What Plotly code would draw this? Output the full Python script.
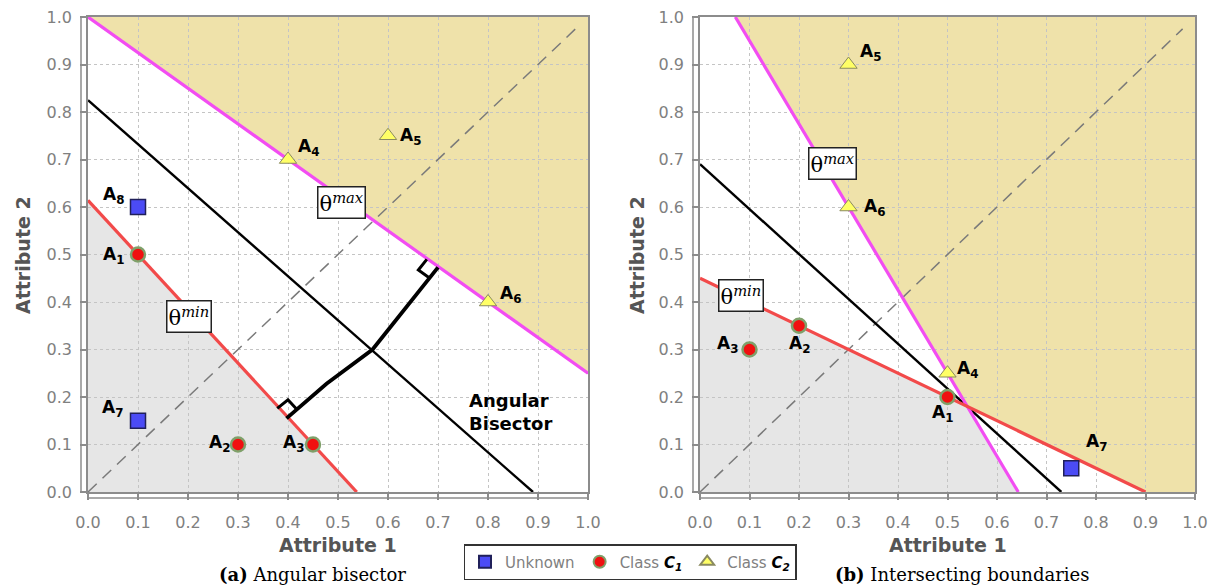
import numpy as np
import plotly.graph_objects as go

# ---------------- data ----------------
tick_vals = [0.0, 0.1, 0.2, 0.3, 0.4, 0.5, 0.6, 0.7, 0.8, 0.9, 1.0]
tick_text = ["0.0", "0.1", "0.2", "0.3", "0.4", "0.5", "0.6", "0.7", "0.8", "0.9", "1.0"]

# Panel (a) Angular bisector
a_c1_x = [0.1, 0.3, 0.45]
a_c1_y = [0.5, 0.1, 0.1]
a_c1_names = ["A<sub>1</sub>", "A<sub>2</sub>", "A<sub>3</sub>"]
a_c2_x = [0.4, 0.6, 0.8]
a_c2_y = [0.7, 0.75, 0.4]
a_c2_names = ["A<sub>4</sub>", "A<sub>5</sub>", "A<sub>6</sub>"]
a_unk_x = [0.1, 0.1]
a_unk_y = [0.15, 0.6]
a_unk_names = ["A<sub>7</sub>", "A<sub>8</sub>"]
a_max_x = [0.0, 1.0]
a_max_y = [1.0, 0.25]
a_min_x = [0.0, 0.5375]
a_min_y = [0.614, 0.0]
a_bis_x = [0.0, 0.89]
a_bis_y = [0.825, 0.0]
a_perp_x = [0.397, 0.477, 0.569, 0.657, 0.70]
a_perp_y = [0.155, 0.228, 0.30, 0.416, 0.473]

# Panel (b) Intersecting boundaries
b_c1_x = [0.5, 0.2, 0.1]
b_c1_y = [0.2, 0.35, 0.3]
b_c1_names = ["A<sub>1</sub>", "A<sub>2</sub>", "A<sub>3</sub>"]
b_c2_x = [0.5, 0.3, 0.3]
b_c2_y = [0.25, 0.9, 0.6]
b_c2_names = ["A<sub>4</sub>", "A<sub>5</sub>", "A<sub>6</sub>"]
b_unk_x = [0.75]
b_unk_y = [0.05]
b_unk_names = ["A<sub>7</sub>"]
b_max_x = [0.0714, 0.643]
b_max_y = [1.0, 0.0]
b_min_x = [0.0, 0.9]
b_min_y = [0.45, 0.0]
b_bis_x = [0.0, 0.73]
b_bis_y = [0.69, 0.0]
diag_x = [0.0, 0.975]
diag_y = [0.0, 0.975]

# ---------------- styles ----------------
TAN = "#EFE2AA"
GRAY = "#E6E6E6"
MAGENTA = "#F24DF2"
RED = "#F24A4A"
AXIS_GRAY = "#8c8c8c"
LBL_FONT = dict(family="DejaVu Sans", size=17, color="black", weight="bold")
W, H = 1220.0, 587.0

fig = go.Figure()


def line_fn(xs, ys):
    k = (ys[1] - ys[0]) / (xs[1] - xs[0])
    return lambda x: ys[0] + k * (x - xs[0])


def region_shapes(l1, l2, xref, yref):
    xs = np.linspace(0, 1, 401)
    f1 = line_fn(*l1)(xs)
    f2 = line_fn(*l2)(xs)
    up = np.clip(np.maximum(f1, f2), 0, 1)
    lo = np.clip(np.minimum(f1, f2), 0, 1)
    p_up = "M 0 1 " + " ".join(f"L {x:.4f} {y:.4f}" for x, y in zip(xs, up)) + " L 1 1 Z"
    p_lo = "M 0 0 " + " ".join(f"L {x:.4f} {y:.4f}" for x, y in zip(xs, lo)) + " L 1 0 Z"
    return [
        dict(type="path", path=p_up, xref=xref, yref=yref, fillcolor=TAN, line=dict(width=0), layer="below"),
        dict(type="path", path=p_lo, xref=xref, yref=yref, fillcolor=GRAY, line=dict(width=0), layer="below"),
    ]


shapes = []
shapes += region_shapes((a_max_x, a_max_y), (a_min_x, a_min_y), "x", "y")
shapes += region_shapes((b_max_x, b_max_y), (b_min_x, b_min_y), "x2", "y2")

# offset outer axis lines (ticks run between them and the frame)
for xr, yr, ypx_axis, xpx_axis in [("x", "y", 498, 81), ("x2", "y2", 498, 693)]:
    shapes.append(dict(type="line", xref=xr, yref="paper", x0=0, x1=1, y0=1 - ypx_axis / H, y1=1 - ypx_axis / H,
                       line=dict(color=AXIS_GRAY, width=1.5)))
    shapes.append(dict(type="line", xref="paper", yref=yr, x0=xpx_axis / W, x1=xpx_axis / W, y0=0, y1=1,
                       line=dict(color=AXIS_GRAY, width=1.5)))


def add_lines(xa, ya, mx, my, nx, ny, bx, by):
    fig.add_trace(go.Scatter(x=diag_x, y=diag_y, mode="lines", xaxis=xa, yaxis=ya, showlegend=False,
                             line=dict(color="#7a7a7a", width=1.5, dash="12px,8px"), hoverinfo="skip"))
    fig.add_trace(go.Scatter(x=bx, y=by, mode="lines", xaxis=xa, yaxis=ya, showlegend=False,
                             line=dict(color="black", width=2.4), hoverinfo="skip"))
    fig.add_trace(go.Scatter(x=mx, y=my, mode="lines", xaxis=xa, yaxis=ya, showlegend=False,
                             line=dict(color=MAGENTA, width=3.2), hoverinfo="skip"))
    fig.add_trace(go.Scatter(x=nx, y=ny, mode="lines", xaxis=xa, yaxis=ya, showlegend=False,
                             line=dict(color=RED, width=3.2), hoverinfo="skip"))


add_lines("x", "y", a_max_x, a_max_y, a_min_x, a_min_y, a_bis_x, a_bis_y)
add_lines("x2", "y2", b_max_x, b_max_y, b_min_x, b_min_y, b_bis_x, b_bis_y)

# perpendicular from bisector to both boundaries, with right-angle marks
fig.add_trace(go.Scatter(x=a_perp_x, y=a_perp_y, mode="lines", showlegend=False, hoverinfo="skip",
                         line=dict(color="black", width=3.8)))


def right_angle(foot, along, toward, d=0.028):
    f = np.array(foot)
    u = np.array(along, dtype=float); u /= np.linalg.norm(u)
    v = np.array(toward, dtype=float) - f; v /= np.linalg.norm(v)
    pts = [f + d * u, f + d * u + d * v, f + d * v]
    return [p[0] for p in pts], [p[1] for p in pts]


mid = (a_perp_x[2], a_perp_y[2])
rx, ry = right_angle((a_perp_x[0], a_perp_y[0]), (a_min_x[0] - a_min_x[1], a_min_y[0] - a_min_y[1]), mid)
fig.add_trace(go.Scatter(x=rx, y=ry, mode="lines", showlegend=False, hoverinfo="skip",
                         line=dict(color="black", width=3)))
rx, ry = right_angle((a_perp_x[-1], a_perp_y[-1]), (a_max_x[0] - a_max_x[1], a_max_y[0] - a_max_y[1]), mid)
fig.add_trace(go.Scatter(x=rx, y=ry, mode="lines", showlegend=False, hoverinfo="skip",
                         line=dict(color="black", width=3)))

unk_marker = dict(symbol="square", size=15, color="#4B4BF5", line=dict(color="#20205A", width=1.5))
c1_marker = dict(symbol="circle", size=14, color="#F01010", line=dict(color="#7FA06A", width=2.5))
c2_marker = dict(symbol="triangle-up", size=15, color="#FFFF66", line=dict(color="#8A8A60", width=1))

C1_NAME = "Class <span style='color:black'><b><i>C<sub>1</sub></i></b></span>"
C2_NAME = "Class <span style='color:black'><b><i>C<sub>2</sub></i></b></span>"


def add_points(xa, ya, ux, uy, c1x, c1y, c2x, c2y, legend):
    fig.add_trace(go.Scatter(x=ux, y=uy, mode="markers", xaxis=xa, yaxis=ya, name="Unknown",
                             marker=unk_marker, showlegend=legend, legendrank=1))
    fig.add_trace(go.Scatter(x=c1x, y=c1y, mode="markers", xaxis=xa, yaxis=ya, name=C1_NAME,
                             marker=c1_marker, showlegend=legend, legendrank=2))
    fig.add_trace(go.Scatter(x=c2x, y=c2y, mode="markers", xaxis=xa, yaxis=ya, name=C2_NAME,
                             marker=c2_marker, showlegend=legend, legendrank=3))


add_points("x", "y", a_unk_x, a_unk_y, a_c1_x, a_c1_y, a_c2_x, a_c2_y, True)
add_points("x2", "y2", b_unk_x, b_unk_y, b_c1_x, b_c1_y, b_c2_x, b_c2_y, False)

# ---------------- annotations ----------------
ann = []
# point label anchors (x, y) for each panel
a_label_pos = {
    "A<sub>1</sub>": (0.05, 0.497), "A<sub>2</sub>": (0.262, 0.103), "A<sub>3</sub>": (0.41, 0.103),
    "A<sub>4</sub>": (0.44, 0.725), "A<sub>5</sub>": (0.645, 0.748), "A<sub>6</sub>": (0.845, 0.415),
    "A<sub>7</sub>": (0.048, 0.175), "A<sub>8</sub>": (0.05, 0.625),
}
b_label_pos = {
    "A<sub>1</sub>": (0.49, 0.165), "A<sub>2</sub>": (0.2, 0.31), "A<sub>3</sub>": (0.055, 0.31),
    "A<sub>4</sub>": (0.54, 0.258), "A<sub>5</sub>": (0.345, 0.925), "A<sub>6</sub>": (0.352, 0.6),
    "A<sub>7</sub>": (0.8, 0.105),
}
for names, pos, xr, yr in [(a_c1_names + a_c2_names + a_unk_names, a_label_pos, "x", "y"),
                           (b_c1_names + b_c2_names + b_unk_names, b_label_pos, "x2", "y2")]:
    for n in names:
        px, py = pos[n]
        ann.append(dict(x=px, y=py, xref=xr, yref=yr, text=n, showarrow=False, font=LBL_FONT,
                        xanchor="center", yanchor="middle"))

theta_font = dict(family="DejaVu Serif", size=21, color="black")
for txt, px, py, xr, yr in [("θ<sup><i>max</i></sup>", 0.507, 0.61, "x", "y"),
                            ("θ<sup><i>min</i></sup>", 0.202, 0.37, "x", "y"),
                            ("θ<sup><i>max</i></sup>", 0.267, 0.692, "x2", "y2"),
                            ("θ<sup><i>min</i></sup>", 0.083, 0.413, "x2", "y2")]:
    ann.append(dict(x=px, y=py, xref=xr, yref=yr, text=txt, showarrow=False, font=theta_font,
                    bgcolor="white", bordercolor="#222", borderwidth=1.5, borderpad=1,
                    xanchor="center", yanchor="middle"))

ann.append(dict(x=0.845, y=0.168, xref="x", yref="y", text="<b>Angular<br>Bisector</b>", showarrow=False,
                font=dict(family="DejaVu Sans", size=18, color="black"), align="left",
                xanchor="center", yanchor="middle"))

title_font = dict(family="DejaVu Sans", size=19, color="#555555")
for cx in [338, 947.5]:
    ann.append(dict(x=cx / W, y=1 - 545 / H, xref="paper", yref="paper", text="<b>Attribute 1</b>",
                    showarrow=False, font=title_font, xanchor="center", yanchor="middle"))
for cx in [23, 637]:
    ann.append(dict(x=cx / W, y=1 - 255 / H, xref="paper", yref="paper", text="<b>Attribute 2</b>",
                    showarrow=False, font=title_font, textangle=-90, xanchor="center", yanchor="middle"))
cap_font = dict(family="DejaVu Serif", size=18, color="black")
ann.append(dict(x=313 / W, y=1 - 574 / H, xref="paper", yref="paper", text="<b>(a)</b> Angular bisector",
                showarrow=False, font=cap_font, xanchor="center", yanchor="middle"))
ann.append(dict(x=962 / W, y=1 - 574 / H, xref="paper", yref="paper", text="<b>(b)</b> Intersecting boundaries",
                showarrow=False, font=cap_font, xanchor="center", yanchor="middle"))

axis_common = dict(range=[0, 1], tickvals=tick_vals, ticktext=tick_text, showgrid=True, gridcolor="#c4c4c4",
                   griddash="dot", gridwidth=1, zeroline=False, showline=True, mirror=True, linecolor=AXIS_GRAY,
                   linewidth=1.5, ticks="outside", ticklen=6, tickcolor=AXIS_GRAY, tickwidth=1.5,
                   automargin=False,
                   tickfont=dict(family="DejaVu Sans", size=16, color="#808080"), fixedrange=True)

fig.update_layout(
    width=1220, height=587, margin=dict(l=0, r=0, t=0, b=0, pad=0, autoexpand=False),
    paper_bgcolor="white", plot_bgcolor="white",
    xaxis=dict(domain=[88 / W, 588 / W], anchor="y", ticklabelstandoff=9, **axis_common),
    yaxis=dict(domain=[1 - 492 / H, 1 - 17 / H], anchor="x", ticklabelstandoff=5, **axis_common),
    xaxis2=dict(domain=[700 / W, 1195 / W], anchor="y2", ticklabelstandoff=9, **axis_common),
    yaxis2=dict(domain=[1 - 492 / H, 1 - 17 / H], anchor="x2", ticklabelstandoff=5, **axis_common),
    shapes=shapes,
    annotations=ann,
    showlegend=True,
    legend=dict(orientation="h", x=630 / W, xanchor="center", y=1 - 562 / H, yanchor="middle",
                bordercolor="#333", borderwidth=1.5, bgcolor="white",
                font=dict(family="DejaVu Sans", size=15, color="#808080"), itemsizing="constant"),
)

fig.write_html("out.html")
